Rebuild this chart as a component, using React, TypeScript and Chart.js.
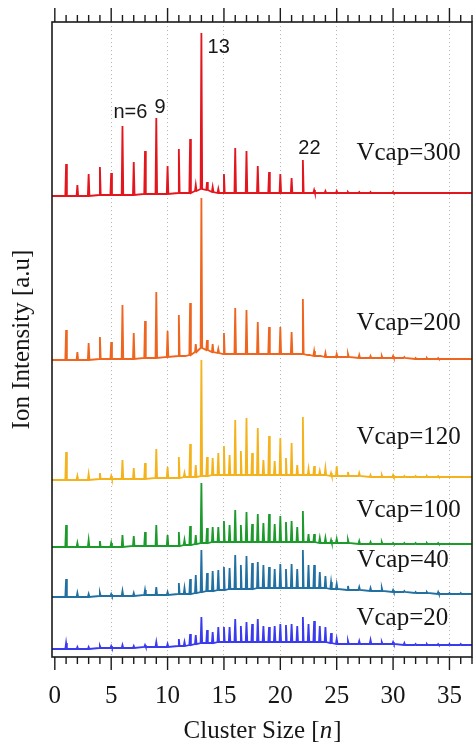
import React, { useEffect, useRef } from 'react';
import { Chart, registerables } from 'chart.js';

Chart.register(...registerables);

// ---------- data ----------
// cluster sizes (n) where peaks are read off the spectra
const positions = [
  1, 2, 3, 4, 5, 6, 7, 8, 9, 10, 11,
  11.5, 12, 12.5, 13, 13.5, 14, 14.5, 15, 15.5, 16, 16.5, 17, 17.5, 18, 18.5, 19, 19.5, 20, 20.5, 21, 21.5, 22, 22.5, 23, 23.5, 24, 24.5, 25,
  26, 27, 28, 29, 30, 31, 32, 33, 34, 35, 36,
];

const seriesNames = ['Vcap=300', 'Vcap=200', 'Vcap=120', 'Vcap=100', 'Vcap=40', 'Vcap=20'];

// vertical offset of each trace (a.u.)
const offsets = [461, 297, 177, 110, 60, 8];

// peak heights above the local background (a.u.)
const peaks300 = [
  32, 11, 22, 28, 22, 69, 33, 43, 76, 28, 44,
  0, 54, 6, 156, 8, 5, 4, 19, 0, 45, 0, 42, 0, 27, 0, 21, 0, 19, 0, 15, 0, 33, 0, 3, 0, 2, 0, 2,
  1, 1, 1, 0, 1, 0, 0, 0, 0, 0, 0,
];
const peaks200 = [
  30, 8, 17, 22, 17, 54, 26, 37, 66, 26, 41,
  0, 52, 8, 150, 10, 8, 4, 21, 0, 46, 0, 44, 0, 32, 0, 27, 0, 27, 0, 22, 0, 55, 0, 5, 0, 4, 0, 3,
  3, 3, 2, 2, 2, 1, 1, 1, 1, 0, 0,
];
const peaks120 = [
  28, 4, 6, 6, 3, 19, 11, 16, 29, 11, 21,
  4, 33, 12, 116, 19, 17, 22, 29, 20, 55, 24, 57, 22, 47, 15, 39, 14, 37, 17, 32, 10, 58, 6, 9, 4, 7, 3, 10,
  4, 3, 2, 2, 2, 1, 1, 1, 1, 0, 0,
];
const peaks100 = [
  22, 4, 7, 6, 4, 12, 10, 14, 21, 11, 14,
  5, 19, 9, 60, 15, 15, 15, 21, 17, 32, 17, 30, 18, 28, 19, 28, 18, 26, 20, 21, 15, 31, 8, 8, 5, 5, 3, 4,
  3, 3, 2, 2, 1, 1, 1, 1, 1, 0, 0,
];
const peaks40 = [
  18, 4, 3, 3, 2, 5, 3, 5, 8, 3, 11,
  6, 15, 18, 42, 18, 20, 20, 23, 21, 34, 24, 33, 26, 26, 23, 21, 19, 24, 19, 24, 19, 38, 23, 23, 16, 12, 7, 5,
  4, 3, 3, 3, 2, 1, 1, 1, 2, 1, 1,
];
const peaks20 = [
  6, 2, 2, 2, 2, 3, 2, 2, 5, 3, 7,
  4, 11, 9, 26, 13, 11, 15, 15, 15, 23, 16, 20, 18, 23, 16, 15, 16, 18, 17, 18, 16, 25, 18, 21, 16, 15, 10, 5,
  3, 3, 4, 2, 2, 2, 1, 1, 1, 1, 1,
];

// background level above each trace's offset (a.u.)
const bg300 = [
  0, 0, 0, 1, 1, 1, 1, 2, 2, 2, 3,
  3, 3, 5, 7, 6, 4, 3, 3, 3, 3, 3, 3, 3, 3, 3, 3, 3, 3, 3, 3, 3, 3, 3, 3, 3, 3, 3, 3,
  3, 3, 3, 3, 3, 3, 3, 3, 3, 3, 3,
];
const bg200 = [
  0, 0, 0, 1, 1, 1, 1, 2, 2, 3, 4,
  4, 5, 8, 12, 10, 8, 7, 6, 6, 6, 6, 6, 6, 6, 6, 6, 6, 6, 6, 6, 6, 6, 5, 4, 4, 3, 3, 3,
  3, 2, 2, 2, 2, 2, 1, 1, 1, 1, 1,
];
const bg120 = [
  0, 0, 0, 1, 1, 1, 1, 1, 2, 2, 2,
  3, 3, 3, 4, 4, 5, 5, 5, 5, 5, 5, 5, 5, 5, 5, 5, 5, 5, 5, 5, 5, 5, 5, 5, 5, 5, 4, 4,
  4, 4, 3, 3, 3, 3, 3, 3, 3, 3, 3,
];
const bg100 = [
  0, 0, 0, 0, 0, 0, 1, 1, 1, 1, 1,
  2, 2, 3, 4, 4, 5, 5, 5, 5, 5, 5, 5, 5, 5, 5, 5, 5, 5, 5, 5, 5, 5, 5, 5, 4, 4, 4, 4,
  4, 3, 3, 3, 3, 3, 3, 3, 3, 3, 3,
];
const bg40 = [
  0, 0, 0, 1, 1, 1, 1, 2, 2, 2, 3,
  3, 3, 4, 5, 6, 6, 7, 7, 8, 8, 8, 8, 8, 9, 9, 9, 9, 9, 9, 9, 9, 9, 9, 9, 9, 9, 8, 8,
  7, 7, 6, 6, 5, 5, 4, 4, 3, 3, 3,
];
const bg20 = [
  0, 0, 0, 1, 1, 1, 1, 2, 2, 2, 3,
  3, 4, 5, 6, 6, 6, 7, 7, 7, 7, 7, 7, 7, 7, 7, 7, 7, 7, 7, 7, 7, 7, 7, 7, 7, 7, 6, 5,
  5, 5, 5, 5, 5, 4, 4, 4, 4, 4, 4,
];

const xTicks = [0, 5, 10, 15, 20, 25, 30, 35];
const peakLabels = ['n=6', '9', '13', '22'];

// ---------- styling / layout ----------
const SERIF = '"Liberation Serif", "Times New Roman", serif';
const SANS = '"Liberation Sans", Arial, sans-serif';
const colors = ['#e3151d', '#ef651f', '#f4b31c', '#1c9a2c', '#2270a2', '#3a3bef'];
const peakSets = [peaks300, peaks200, peaks120, peaks100, peaks40, peaks20];
const bgSets = [bg300, bg200, bg120, bg100, bg40, bg20];

// label anchor positions (data coordinates)
const vcapLabelPos = [
  { x: 26.75, y: 497 },
  { x: 26.75, y: 327 },
  { x: 26.75, y: 213 },
  { x: 26.75, y: 140 },
  { x: 26.8, y: 90 },
  { x: 26.75, y: 32 },
];
const peakLabelPos = [
  { x: 5.2, y: 539 },
  { x: 8.85, y: 544 },
  { x: 13.55, y: 604 },
  { x: 21.6, y: 503 },
];

const X_MIN = -0.25;
const X_MAX = 37;
const SPIKE = 0.07;

function buildTrace(s: number) {
  const off = offsets[s];
  const pk = peakSets[s];
  const bg = bgSets[s];
  const pts: { x: number; y: number }[] = [{ x: X_MIN - 0.1, y: off }];
  for (let i = 0; i < positions.length; i++) {
    const p = positions[i];
    const b = off + bg[i];
    pts.push({ x: p - SPIKE, y: b });
    pts.push({ x: p, y: b + pk[i] });
    pts.push({ x: p + SPIKE, y: b });
  }
  pts.push({ x: X_MAX + 0.3, y: off + bg[bg.length - 1] });
  return pts;
}

const decorPlugin = {
  id: 'decor',
  afterDatasetsDraw(chart: any) {
    const { ctx, chartArea: a, scales } = chart;
    const xs = scales.x;
    const ys = scales.y;
    ctx.save();
    // frame
    ctx.strokeStyle = '#1b1b1b';
    ctx.lineWidth = 1.6;
    ctx.strokeRect(a.left, a.top, a.right - a.left, a.bottom - a.top);
    // minor / major ticks top and bottom
    ctx.lineWidth = 1.4;
    for (let v = Math.ceil(xs.min); v <= xs.max; v++) {
      const px = xs.getPixelForValue(v);
      const major = xTicks.includes(v);
      ctx.beginPath();
      ctx.moveTo(px, a.bottom);
      ctx.lineTo(px, a.bottom + (major ? 13 : 7));
      ctx.moveTo(px, a.top);
      ctx.lineTo(px, a.top - (major ? 14 : 7));
      ctx.stroke();
    }
    // series labels
    ctx.fillStyle = '#161616';
    ctx.textBaseline = 'alphabetic';
    ctx.textAlign = 'left';
    ctx.font = `25px ${SERIF}`;
    seriesNames.forEach((t, i) => {
      const p = vcapLabelPos[i];
      ctx.fillText(t, xs.getPixelForValue(p.x), ys.getPixelForValue(p.y));
    });
    // peak labels
    ctx.font = `20px ${SANS}`;
    peakLabels.forEach((t, i) => {
      const p = peakLabelPos[i];
      ctx.fillText(t, xs.getPixelForValue(p.x), ys.getPixelForValue(p.y));
    });
    // x axis title with italic n
    const cx = (a.left + a.right) / 2;
    const ty = 738;
    const parts = [
      { t: 'Cluster Size [', f: `25px ${SERIF}` },
      { t: 'n', f: `italic 25px ${SERIF}` },
      { t: ']', f: `25px ${SERIF}` },
    ];
    let total = 0;
    parts.forEach((p) => {
      ctx.font = p.f;
      total += ctx.measureText(p.t).width;
    });
    let x = cx - total / 2;
    parts.forEach((p) => {
      ctx.font = p.f;
      ctx.fillText(p.t, x, ty);
      x += ctx.measureText(p.t).width + (p.t === 'n' ? 1 : 0);
    });
    ctx.restore();
  },
};

export default function App() {
  const ref = useRef<HTMLCanvasElement | null>(null);

  useEffect(() => {
    if (!ref.current) return;
    const datasets = seriesNames.map((name, s) => ({
      label: name,
      data: buildTrace(s),
      borderColor: colors[s],
      backgroundColor: colors[s],
      borderWidth: 1.8,
      pointRadius: 0,
      tension: 0,
      fill: false,
    }));
    const chart = new Chart(ref.current, {
      type: 'line',
      data: { datasets },
      options: {
        animation: false,
        responsive: false,
        maintainAspectRatio: false,
        parsing: false as any,
        normalized: true,
        layout: { padding: { top: 22, right: 3, left: 0, bottom: 0 } },
        plugins: {
          legend: { display: false },
          tooltip: { enabled: false },
        },
        scales: {
          x: {
            type: 'linear',
            min: X_MIN,
            max: X_MAX,
            afterBuildTicks: (s: any) => {
              s.ticks = xTicks.map((v) => ({ value: v }));
            },
            afterFit: (s: any) => {
              s.height = 87;
              s.paddingLeft = 0;
              s.paddingRight = 0;
            },
            ticks: {
              autoSkip: false,
              maxRotation: 0,
              padding: 24,
              color: '#161616',
              font: { family: SERIF, size: 25 },
              callback: (v: any) => String(v),
            },
            grid: {
              drawTicks: false,
              color: (c: any) => (c.tick && c.tick.value === 0 ? 'rgba(0,0,0,0)' : '#b5b5b5'),
              lineWidth: 1,
            },
            border: { display: false, dash: [1, 3] },
          },
          y: {
            type: 'linear',
            min: 0,
            max: 635,
            afterFit: (s: any) => {
              s.width = 52;
              s.paddingTop = 0;
              s.paddingBottom = 0;
            },
            ticks: { display: false },
            grid: { display: false },
            border: { display: false },
            title: {
              display: true,
              text: 'Ion Intensity [a.u]',
              color: '#161616',
              font: { family: SERIF, size: 25 },
              padding: { top: 7, bottom: 0 },
            },
          },
        },
      },
      plugins: [decorPlugin],
    });
    return () => chart.destroy();
  }, []);

  return (
    <div style={{ position: 'fixed', left: 0, top: 0, width: 475, height: 744, background: '#fff' }}>
      <canvas ref={ref} width={475} height={744} style={{ display: 'block' }} />
    </div>
  );
}
